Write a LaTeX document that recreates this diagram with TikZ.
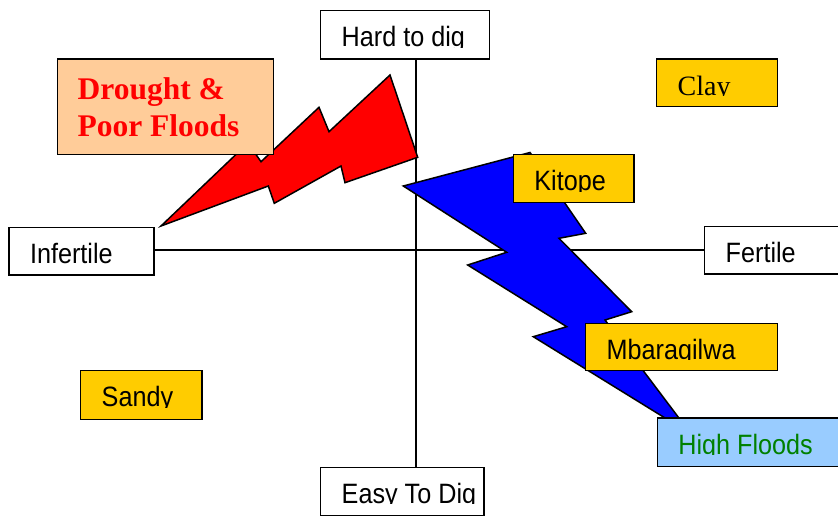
\documentclass[tikz,border=0pt]{standalone}
\usepackage{fontspec}
\newfontfamily\arialn[FakeStretch=0.9]{Liberation Sans}
\newfontfamily\timesf{Liberation Serif}
\definecolor{boxyellow}{RGB}{255,204,0}
\definecolor{peach}{RGB}{255,204,153}
\definecolor{skyb}{RGB}{153,204,255}
\definecolor{darkgreen}{RGB}{0,128,0}
\newcommand\boxlabel[4]{%
  \begin{scope}
    \clip ([yshift=1pt]#1.north west) rectangle ([yshift=-37pt]#1.north east);
    \node[#3, anchor=base west] (#2) at ([xshift=21.5pt,yshift=-36.7pt]#1.north west) {#4};
  \end{scope}}
\begin{document}
\begin{tikzpicture}[x=1pt,y=-1pt,
  box/.style={draw=black, line width=1.3pt, rectangle, inner sep=0pt, anchor=north west},
  sanslab/.style={inner sep=0pt, font=\arialn\fontsize{28}{32}\selectfont},
  seriflab/.style={inner sep=0pt, font=\timesf\fontsize{28}{32}\selectfont},
  boldlab/.style={inner sep=0pt, text=red, font=\timesf\bfseries\fontsize{31.5}{36}\selectfont},
  axis/.style={line width=1.2pt, black},
  bolt/.style={draw=black, line width=1.5pt, line join=miter}]
\useasboundingbox (0,0) rectangle (838,515);
\clip (0,0) rectangle (838,515);
\coordinate (c) at (416,250);
% axis boxes
\node[box, fill=white, minimum width=169pt, minimum height=48.3pt] (hard) at (320,10) {};
\node[box, fill=white, minimum width=163.3pt, minimum height=48pt] (easy) at (320,466.7) {};
\node[box, fill=white, minimum width=145pt, minimum height=47.6pt] (infertile) at (8.3,226.7) {};
\node[box, fill=white, minimum width=160pt, minimum height=47.3pt] (fertile) at (704,226) {};
% axes
\draw[axis] (hard.south -| c) -- (easy.north -| c);
\draw[axis] (infertile.east |- c) -- (fertile.west |- c);
% red bolt
\filldraw[bolt, fill=red] (161,226) -- (248,143) -- (261,161.7) -- (319,107.3) -- (329,131.7) -- (390,75) -- (417.7,157.3) -- (345,182.7) -- (341,166) -- (274.3,203.3) -- (268.3,186) -- cycle;
% blue bolt
\filldraw[bolt, fill=blue] (403.3,186) -- (530,152.5) -- (585.7,233.3) -- (559,238.3) -- (631.7,311.7) -- (605,320) -- (691,434) -- (533.3,336.7) -- (566.7,326.7) -- (467.7,265) -- (506.7,252.3) -- cycle;
% coloured boxes
\node[box, fill=peach, minimum width=216pt, minimum height=95.7pt] (drought) at (56.7,58.3) {};
\node[box, fill=boxyellow, minimum width=120.7pt, minimum height=47.7pt] (clay) at (656,58.3) {};
\node[box, fill=boxyellow, minimum width=121.3pt, minimum height=48.7pt] (sandy) at (80,370) {};
\node[box, fill=boxyellow, minimum width=120.6pt, minimum height=47.7pt] (kitope) at (512.7,154) {};
\node[box, fill=boxyellow, minimum width=191.7pt, minimum height=47.3pt] (mbar) at (585,322.7) {};
\node[box, fill=skyb, minimum width=181pt, minimum height=48.7pt] (high) at (656.7,417.3) {};
% labels
\boxlabel{hard}{hardt}{sanslab}{Hard to dig}
\boxlabel{easy}{easyt}{sanslab}{Easy To Dig}
\boxlabel{infertile}{infertilet}{sanslab}{Infertile}
\boxlabel{fertile}{fertilet}{sanslab}{Fertile}
\boxlabel{sandy}{sandyt}{sanslab}{Sandy}
\boxlabel{kitope}{kitopet}{sanslab}{Kitope}
\boxlabel{mbar}{mbart}{sanslab}{Mbaragilwa}
\boxlabel{high}{hight}{sanslab, text=darkgreen}{High Floods}
\boxlabel{clay}{clayt}{seriflab}{Clay}
\node[boldlab, anchor=base west] (d1) at ([xshift=20.7pt,yshift=-40.7pt]drought.north west) {Drought \&};
\node[boldlab, anchor=base west] (d2) at ([xshift=20.7pt,yshift=-78.4pt]drought.north west) {Poor Floods};
\end{tikzpicture}
\end{document}
